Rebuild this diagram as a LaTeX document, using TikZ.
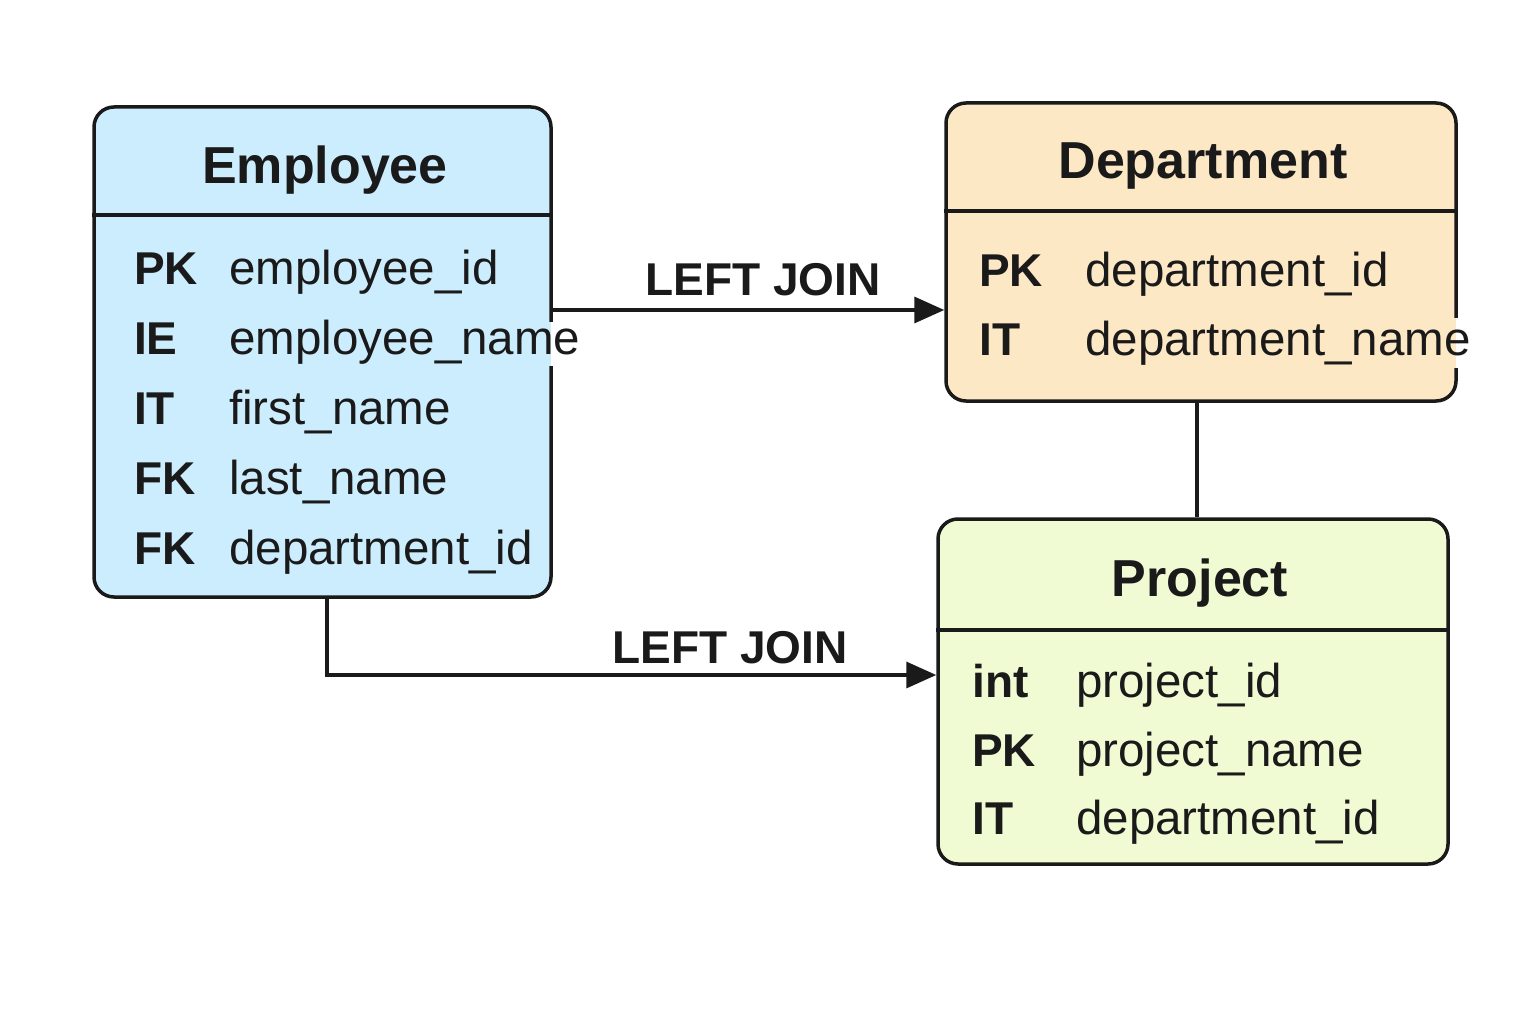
\documentclass[tikz,border=0pt]{standalone}
\usepackage{fontspec}
\setmainfont{Liberation Sans}
\usetikzlibrary{arrows.meta}
\definecolor{empfill}{HTML}{CCEDFD}
\definecolor{depfill}{HTML}{FDE8C6}
\definecolor{prjfill}{HTML}{F1FBD3}
\definecolor{ink}{HTML}{1A1A1A}
\tikzset{
  tbl/.style={draw=ink, line width=3.5pt, rounded corners=20pt, rectangle, inner sep=0pt},
  divider/.style={draw=ink, line width=3.5pt},
  ttl/.style={anchor=base, inner sep=0pt, text=ink, font=\fontsize{52}{62}\selectfont\bfseries},
  keytxt/.style={anchor=base west, inner sep=0pt, text=ink, font=\fontsize{46}{55}\selectfont\bfseries},
  fldtxt/.style={anchor=base west, inner sep=0pt, text=ink, font=\fontsize{47.5}{57}\selectfont},
  joinlbl/.style={anchor=base, inner sep=0pt, text=ink, font=\fontsize{46}{55}\selectfont\bfseries},
  conn/.style={draw=ink, line width=3.5pt},
  arr/.style={conn, -{Triangle[length=30pt,width=26pt]}},
}
\begin{document}
\begin{tikzpicture}[x=1pt,y=-1pt]
\useasboundingbox (0,0) rectangle (1536,1024);
\fill[white] (0,0) rectangle (1536,1024);

% Employee
\node[tbl, fill=empfill, minimum width=457pt, minimum height=490pt] (emp) at (322.5,352) {};
\coordinate (empdiv) at (0,215);
\draw[divider] (emp.west |- empdiv) -- (emp.east |- empdiv);
\fill[empfill] (540,322) rectangle (551,366);
\fill[white] (551,322) rectangle (556,366);
\node[ttl] (empt) at (325,184) {Employee};
\node[keytxt] (ek1) at (134,284) {PK};
\node[fldtxt] (ef1) at (229,284) {employee\_id};
\node[keytxt] (ek2) at (134,354) {IE};
\node[fldtxt] (ef2) at (229,354) {employee\_name};
\node[keytxt] (ek3) at (134,424) {IT};
\node[fldtxt] (ef3) at (229,424) {first\_name};
\node[keytxt] (ek4) at (134,494) {FK};
\node[fldtxt] (ef4) at (229,494) {last\_name};
\node[keytxt] (ek5) at (134,564) {FK};
\node[fldtxt] (ef5) at (229,564) {department\_id};

% Department
\node[tbl, fill=depfill, minimum width=510pt, minimum height=298pt] (dep) at (1201,252) {};
\coordinate (depdiv) at (0,211);
\draw[divider] (dep.west |- depdiv) -- (dep.east |- depdiv);
\fill[depfill] (1445,318) rectangle (1456,368);
\fill[white] (1456,318) rectangle (1461,368);
\node[ttl] (dept) at (1203,179) {Department};
\node[keytxt] (dk1) at (979,287) {PK};
\node[fldtxt] (df1) at (1085,287) {department\_id};
\node[keytxt] (dk2) at (979,355) {IT};
\node[fldtxt] (df2) at (1085,355) {department\_name};

% Project
\node[tbl, fill=prjfill, minimum width=510pt, minimum height=345pt] (prj) at (1193,691.5) {};
\coordinate (prjdiv) at (0,630);
\draw[divider] (prj.west |- prjdiv) -- (prj.east |- prjdiv);
\node[ttl] (prjt) at (1200,596) {Project};
\node[keytxt] (pk1) at (972,697) {int};
\node[fldtxt] (pf1) at (1076,697) {project\_id};
\node[keytxt] (pk2) at (972,766) {PK};
\node[fldtxt] (pf2) at (1076,766) {project\_name};
\node[keytxt] (pk3) at (972,834) {IT};
\node[fldtxt] (pf3) at (1076,834) {department\_id};

% Connectors
\coordinate (a1s) at (551,310);
\draw[arr] (emp.east |- a1s) -- (dep.west |- a1s);
\node[joinlbl] (j1) at (763,295) {LEFT JOIN};

\coordinate (a2s) at (327,675);
\draw[arr] (emp.south -| a2s) |- (prj.west |- a2s);
\node[joinlbl] (j2) at (730,663) {LEFT JOIN};

\coordinate (a3s) at (1197,0);
\draw[conn] (dep.south -| a3s) -- (prj.north -| a3s);
\end{tikzpicture}
\end{document}
